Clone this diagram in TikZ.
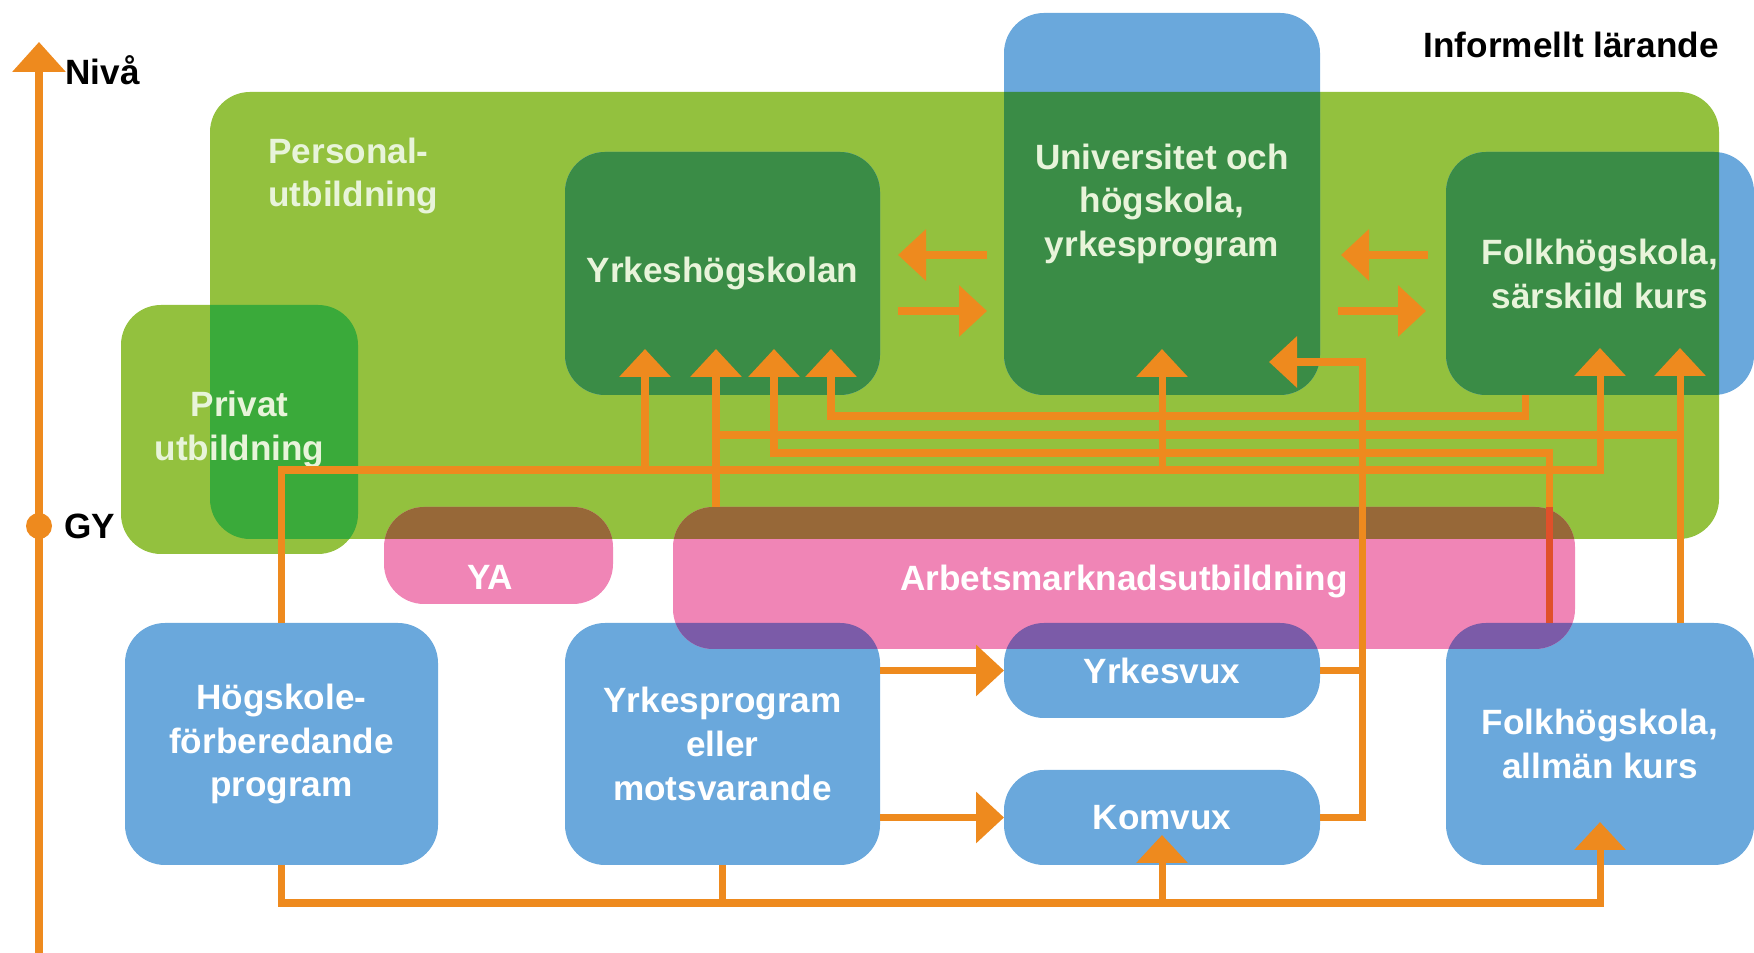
\documentclass[tikz,border=0pt]{standalone}
\usepackage{fontspec}
\setmainfont{Liberation Sans}
\usetikzlibrary{arrows.meta}
\definecolor{lgreen}{HTML}{93C13E}
\definecolor{pgreen}{HTML}{3AAA3A}
\definecolor{dgreen}{HTML}{3A8C46}
\definecolor{sblue}{HTML}{6AA8DC}
\definecolor{spink}{HTML}{F085B6}
\definecolor{sbrown}{HTML}{976838}
\definecolor{spurple}{HTML}{7B5BA8}
\definecolor{orng}{HTML}{EE8A1E}
\definecolor{redline}{HTML}{E0502A}
\definecolor{pale}{HTML}{E8F4DA}

\begin{document}
\begin{tikzpicture}[x=0.1mm, y=-0.1mm,
  font=\fontsize{10}{12.5}\selectfont\bfseries,
  box/.style={rounded corners=4mm, inner sep=0pt, outer sep=0pt, align=center},
  bluebox/.style={box, fill=sblue, text=white},
  ingreen/.style={text=pale, path picture={
      \fill[dgreen, rounded corners=4mm] (personal.south west) rectangle (personal.north east);}},
  pinkbox/.style={box, fill=spink, text=white, path picture={
      \fill[sbrown, rounded corners=4mm] (personal.south west) rectangle (personal.north east);
      \foreach \b in {yrkprog,yvux,folkallm}
        \fill[spurple, rounded corners=4mm] (\b.south west) rectangle (\b.north east);}},
  link/.style={draw=orng, line width=2pt},
  arr/.style={link, -{Triangle[width=5mm, length=2.8mm]}}]
  \useasboundingbox (0,0) rectangle (1754,953);

  % green areas
  \node[box, fill=lgreen, minimum width=150.9mm, minimum height=44.7mm] (personal) at (964.5,315.5) {};
  \node[box, fill=lgreen, minimum width=23.7mm, minimum height=24.9mm] (privat) at (239.5,429.5) {};
  \begin{scope}
    \clip[rounded corners=4mm] (personal.south west) rectangle (personal.north east);
    \fill[pgreen, rounded corners=4mm] (privat.south west) rectangle (privat.north east);
  \end{scope}
  \node[text=pale, align=left, anchor=west] (personallbl) at (256,176) {Personal-\\utbildning};
  \node[text=pale, align=center] (privatlbl) at (privat) {Privat\\utbildning};

  % blue boxes
  \node[bluebox, ingreen, minimum width=31.6mm, minimum height=38.2mm] (univ) at (1162,204) {Universitet och\\högskola,\\yrkesprogram};
  \node[bluebox, ingreen, minimum width=31.5mm, minimum height=24.3mm] (yh) at (722.5,273.5) {Yrkeshögskolan};
  \node[bluebox, ingreen, minimum width=30.8mm, minimum height=24.3mm] (folksk) at (1600,273.5) {Folkhögskola,\\särskild kurs};
  \node[bluebox, minimum width=31.3mm, minimum height=24.2mm] (hfp) at (281.5,744) {Högskole-\\förberedande\\program};
  \node[bluebox, minimum width=31.5mm, minimum height=24.2mm] (yrkprog) at (722.5,744) {Yrkesprogram\\eller\\motsvarande};
  \node[bluebox, minimum width=31.6mm, minimum height=9.5mm] (yvux) at (1162,670.5) {Yrkesvux};
  \node[bluebox, minimum width=31.6mm, minimum height=9.5mm] (komvux) at (1162,817.5) {Komvux};
  \node[bluebox, minimum width=30.8mm, minimum height=24.2mm] (folkallm) at (1600,744) {Folkhögskola,\\allmän kurs};

  % arrow ends
  \coordinate (yh1) at (645,349);
  \coordinate (yh2) at (716,349);
  \coordinate (yh3) at (774,349);
  \coordinate (yh4) at (831,349);
  \coordinate (univin) at (1162,349);
  \coordinate (univside) at (1269,362);
  \coordinate (fs1) at (1600,348);
  \coordinate (fs2) at (1680,348);
  \coordinate (kvin) at (1162,835);
  \coordinate (fain) at (1600,822);

  % pink boxes
  \node[pinkbox, minimum width=22.9mm, minimum height=9.7mm] (ya) at (498.5,555.5) {};
  \node[text=white] (yalbl) at (490,577) {YA};
  \node[pinkbox, text depth=0pt, minimum width=90.2mm, minimum height=14.2mm] (amu) at (1124,578) {Arbetsmarknadsutbildning};

  % connections
  \draw[arr] (folkallm.north -| 1549,0) |- (yh3 |- 0,453) -- (yh3);
  \draw[link, draw=redline] (folkallm.north -| 1549,0) -- (1549,0 |- amu.north);
  \draw[arr] (hfp.north) |- (fs1 |- 0,470) -- (fs1);
  \draw[arr] (yh1 |- 0,470) -- (yh1);
  \draw[arr] (univin |- 0,470) -- (univin);
  \draw[arr] (amu.north -| yh2) -- (yh2);
  \draw[arr] (folkallm.north -| fs2) -- (fs2);
  \draw[link] (fs2 |- 0,435) -- (yh2 |- 0,435);
  \draw[arr] (folksk.south -| 1525,0) |- (yh4 |- 0,416) -- (yh4);
  \draw[link] (yvux.east) -- (yvux.east -| 1362,0);
  \draw[arr] (komvux.east) -| (1362,0 |- univside) -- (univside);
  \draw[arr] (yrkprog.east |- yvux) -- (yvux.west);
  \draw[arr] (yrkprog.east |- komvux) -- (komvux.west);
  \draw[arr] (hfp.south) |- (fain |- 0,903) -- (fain);
  \draw[link] (yrkprog.south) -- (yrkprog.south |- 0,903);
  \draw[arr] (kvin |- 0,903) -- (kvin);

  % between the upper boxes
  \draw[arr, shorten <=1.7mm, shorten >=1.8mm] (univ.west |- 0,255) -- (yh.east |- 0,255);
  \draw[arr, shorten <=1.8mm, shorten >=1.7mm] (yh.east |- 0,311) -- (univ.west |- 0,311);
  \draw[arr, shorten <=1.8mm, shorten >=2.1mm] (folksk.west |- 0,255) -- (univ.east |- 0,255);
  \draw[arr, shorten <=1.8mm, shorten >=2.0mm] (univ.east |- 0,311) -- (folksk.west |- 0,311);

  % level axis
  \coordinate (axtop) at (39,42);
  \coordinate (axbot) at (39,953);
  \draw[link, -{Triangle[width=5.2mm, length=3mm]}] (axbot) -- (axtop);
  \node[circle, fill=orng, minimum size=2.6mm, inner sep=0pt] (gydot) at (39,526) {};
  \node[anchor=west] (niva) at (53,70) {Nivå};
  \node[anchor=west] (gy) at (52,526) {GY};
  \node[anchor=east] (informellt) at (1731,45) {Informellt lärande};
\end{tikzpicture}
\end{document}
